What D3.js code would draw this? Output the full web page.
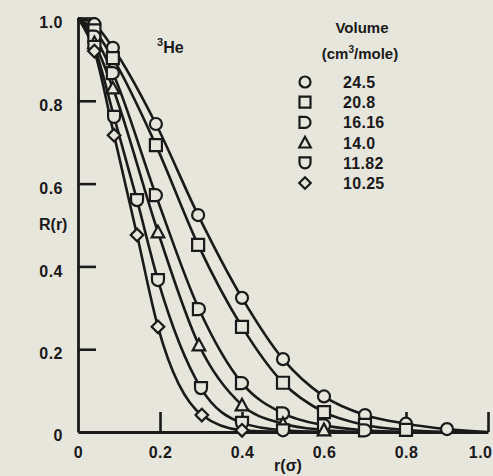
<!DOCTYPE html>
<html><head><meta charset="utf-8">
<script src="https://cdn.jsdelivr.net/npm/d3@7"></script>
<style>
html,body{margin:0;padding:0;background:#e7e6dd;}
svg{display:block;}
text{font-family:"Liberation Sans","Arial",sans-serif;font-weight:bold;fill:#1a1a1a;}
</style></head>
<body><svg id="c" width="493" height="476"></svg>
<script>
// ---- data ----
const volumes = ["24.5", "20.8", "16.16", "14.0", "11.82", "10.25"];
const symbols = ["circle", "square", "dRight", "triangle", "uDown", "diamond"];

const r245 = [0.04, 0.085, 0.19, 0.293, 0.40, 0.50, 0.60, 0.70, 0.80, 0.90];
const R245 = [0.985, 0.928, 0.744, 0.524, 0.324, 0.176, 0.086, 0.041, 0.020, 0.007];
const r208 = [0.04, 0.085, 0.19, 0.293, 0.40, 0.50, 0.60, 0.70, 0.80];
const R208 = [0.970, 0.903, 0.693, 0.452, 0.254, 0.119, 0.048, 0.017, 0.005];
const r1616 = [0.04, 0.085, 0.19, 0.295, 0.40, 0.50, 0.60, 0.70];
const R1616 = [0.955, 0.867, 0.572, 0.297, 0.118, 0.045, 0.016, 0.004];
const r140 = [0.04, 0.085, 0.195, 0.295, 0.40, 0.50, 0.60];
const R140 = [0.940, 0.831, 0.483, 0.210, 0.065, 0.020, 0.005];
const r1182 = [0.04, 0.088, 0.144, 0.195, 0.30, 0.40, 0.50];
const R1182 = [0.930, 0.761, 0.560, 0.367, 0.106, 0.022, 0.004];
const r1025 = [0.04, 0.088, 0.144, 0.195, 0.302, 0.40];
const R1025 = [0.920, 0.717, 0.476, 0.254, 0.041, 0.004];
// where each fitted curve starts and where it meets the axis
const curveStart = [0, 1.0];
const curveEndR = [1.0, 0.9, 0.8, 0.7, 0.6, 0.5];

const xTicks = [0, 0.2, 0.4, 0.6, 0.8, 1.0];
const yTicks = [0, 0.2, 0.4, 0.6, 0.8, 1.0];
const xTickLabels = ["0", "0.2", "0.4", "0.6", "0.8", "1.0"];
const yTickLabels = ["0", "0.2", "0.4", "0.6", "0.8", "1.0"];

const seriesR = [r245, r208, r1616, r140, r1182, r1025];
const seriesV = [R245, R208, R1616, R140, R1182, R1025];

// ---- drawing ----
const ink = "#1a1a1a";
const paper = "#e7e6dd";
const svg = d3.select("#c");
const x = d3.scaleLinear().domain([0, 1]).range([78, 488]);
const y = d3.scaleLinear().domain([0, 1]).range([432, 18]);

function symPath(type, s) {
  const h = s / 2;
  switch (type) {
    case "circle": return d3.symbol(d3.symbolCircle, Math.PI * h * h)();
    case "square": return `M${-h},${-h}H${h}V${h}H${-h}Z`;
    case "dRight": return `M${-h},${-h}H0A${h},${h} 0 0 1 0,${h}H${-h}Z`;
    case "uDown": return `M${-h},${-h}H${h}V0A${h},${h} 0 0 1 ${-h},0Z`;
    case "triangle": { const t = h * 1.05; return `M0,${-t}L${t},${t * 0.85}H${-t}Z`; }
    case "diamond": { const t = h * 1.05; return `M0,${-t}L${t},0L0,${t}L${-t},0Z`; }
  }
}

// axes
const yAxis = d3.axisLeft(y).tickValues(yTicks).tickSizeInner(-18).tickSizeOuter(0).tickPadding(15)
  .tickFormat((d, i) => yTickLabels[i]);
const gy = svg.append("g").attr("transform", `translate(${x(0)},0)`).call(yAxis);
const xAxis = d3.axisBottom(x).tickValues(xTicks).tickSizeInner(-20).tickSizeOuter(0).tickPadding(12)
  .tickFormat((d, i) => xTickLabels[i]);
const gx = svg.append("g").attr("transform", `translate(0,${y(0)})`).call(xAxis);
[gx, gy].forEach(g => {
  g.select(".domain").attr("stroke", ink).attr("stroke-width", 2.8);
  g.selectAll(".tick line").attr("stroke", ink).attr("stroke-width", 2.6);
  g.selectAll(".tick text").attr("fill", ink).style("font-size", "16px").attr("font-family", null)
    .style("letter-spacing", "0.5px");
});
gy.selectAll(".tick").filter(d => d === 0).select("line").remove();
gx.selectAll(".tick").filter(d => d === 0).select("line").remove();
gy.selectAll(".tick text").attr("dy", "0.6em");
gy.selectAll(".tick").filter(d => d === 0).select("text").attr("dy", "0.5em");
gx.selectAll(".tick text").attr("dy", "0.85em");
gx.selectAll(".tick").filter(d => d === 1).select("text").attr("text-anchor", "end").attr("x", 4);

// curves
const line = d3.line().x(d => x(d[0])).y(d => y(d[1])).curve(d3.curveMonotoneX);
seriesR.forEach((rs, i) => {
  const pts = [curveStart].concat(rs.map((r, j) => [r, seriesV[i][j]])).concat([[curveEndR[i], 0]]);
  svg.append("path").attr("d", line(pts)).attr("fill", "none")
    .attr("stroke", ink).attr("stroke-width", 2.6);
});

// markers
seriesR.forEach((rs, i) => {
  svg.append("g").selectAll("path").data(rs.map((r, j) => [r, seriesV[i][j]])).join("path")
    .attr("transform", d => `translate(${x(d[0])},${y(d[1])})`)
    .attr("d", symPath(symbols[i], 12))
    .attr("fill", paper).attr("stroke", ink).attr("stroke-width", 2.2);
});

// labels
svg.append("text").attr("x", 39).attr("y", 230).style("font-size", "16px").text("R(r)");
svg.append("text").attr("x", 288).attr("y", 471).attr("text-anchor", "middle").style("font-size", "16px").text("r(σ)");
const he = svg.append("text").attr("x", 157).attr("y", 53).style("font-size", "16px");
he.append("tspan").attr("dy", -7).style("font-size", "11px").text("3");
he.append("tspan").attr("dy", 7).text("He");

// legend
svg.append("text").attr("x", 362).attr("y", 33).attr("text-anchor", "middle").style("font-size", "15px").text("Volume");
const unit = svg.append("text").attr("x", 360).attr("y", 59).attr("text-anchor", "middle").style("font-size", "15px");
unit.append("tspan").text("(cm");
unit.append("tspan").attr("dy", -6).style("font-size", "10px").text("3");
unit.append("tspan").attr("dy", 6).text("/mole)");
const ly = d3.scaleLinear().domain([0, 5]).range([82, 183]);
volumes.forEach((v, i) => {
  svg.append("path").attr("transform", `translate(305,${ly(i)})`).attr("d", symPath(symbols[i], 11))
    .attr("fill", "none").attr("stroke", ink).attr("stroke-width", 2.2);
  svg.append("text").attr("x", 343).attr("y", ly(i) + 6).style("font-size", "16px")
    .style("letter-spacing", "0.3px").text(v);
});
</script></body></html>
